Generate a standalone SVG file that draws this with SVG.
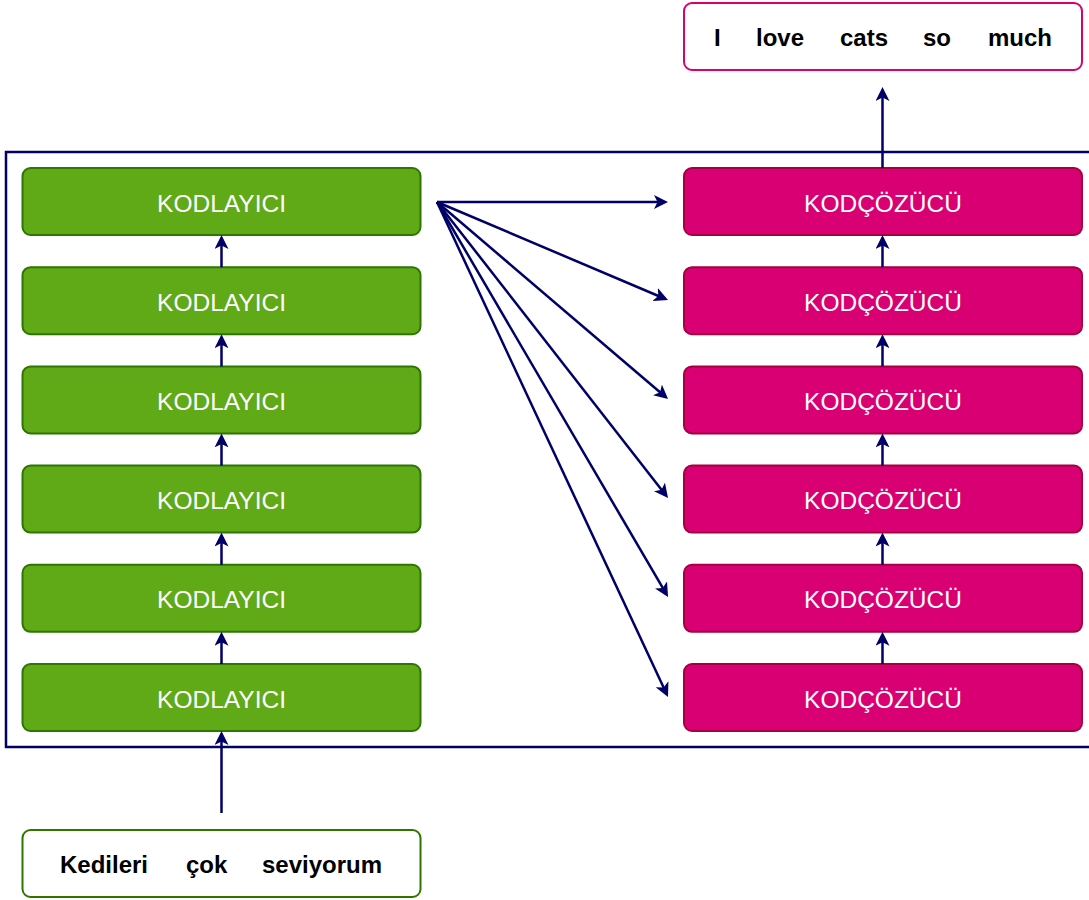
<svg xmlns="http://www.w3.org/2000/svg" width="1089" height="900" viewBox="0 0 1089 900">
  <style>
    .enc rect { fill: #60a917; stroke: #2d7600; stroke-width: 2; }
    .dec rect { fill: #d80073; stroke: #a50040; stroke-width: 2; }
    .lbl { font-family: "Liberation Sans", Arial, sans-serif; font-size: 24.5px; fill: #ffffff; text-anchor: middle; }
    .sent { font-family: "Liberation Sans", Arial, sans-serif; font-size: 24px; font-weight: bold; fill: #000000; }
    .edge { stroke: #000066; stroke-width: 2.5; fill: none; marker-end: url(#head); }
  </style>
  <defs>
    <marker id="head" markerUnits="userSpaceOnUse" viewBox="0 0 14 14" markerWidth="14" markerHeight="14" refX="5" refY="7" orient="auto">
      <path d="M0,0 L14,7 L0,14 L3.5,7 Z" fill="#000066"/>
    </marker>
  </defs>

  <rect width="1089" height="900" fill="#ffffff"/>

  <!-- model frame -->
  <rect id="model-frame" x="6" y="152" width="1100" height="595" fill="none" stroke="#000066" stroke-width="2.5"/>

  <!-- encoder stack -->
  <g id="enc1" class="enc"><rect x="22.5" y="168" width="398" height="67" rx="8"/><text class="lbl" x="221.5" y="211.5">KODLAYICI</text></g>
  <g id="enc2" class="enc"><rect x="22.5" y="267.2" width="398" height="67" rx="8"/><text class="lbl" x="221.5" y="310.7">KODLAYICI</text></g>
  <g id="enc3" class="enc"><rect x="22.5" y="366.4" width="398" height="67" rx="8"/><text class="lbl" x="221.5" y="409.9">KODLAYICI</text></g>
  <g id="enc4" class="enc"><rect x="22.5" y="465.6" width="398" height="67" rx="8"/><text class="lbl" x="221.5" y="509.1">KODLAYICI</text></g>
  <g id="enc5" class="enc"><rect x="22.5" y="564.8" width="398" height="67" rx="8"/><text class="lbl" x="221.5" y="608.3">KODLAYICI</text></g>
  <g id="enc6" class="enc"><rect x="22.5" y="664" width="398" height="67" rx="8"/><text class="lbl" x="221.5" y="707.5">KODLAYICI</text></g>

  <!-- decoder stack -->
  <g id="dec1" class="dec"><rect x="684" y="168" width="398" height="67" rx="8"/><text class="lbl" x="883" y="211.5">KODÇÖZÜCÜ</text></g>
  <g id="dec2" class="dec"><rect x="684" y="267.2" width="398" height="67" rx="8"/><text class="lbl" x="883" y="310.7">KODÇÖZÜCÜ</text></g>
  <g id="dec3" class="dec"><rect x="684" y="366.4" width="398" height="67" rx="8"/><text class="lbl" x="883" y="409.9">KODÇÖZÜCÜ</text></g>
  <g id="dec4" class="dec"><rect x="684" y="465.6" width="398" height="67" rx="8"/><text class="lbl" x="883" y="509.1">KODÇÖZÜCÜ</text></g>
  <g id="dec5" class="dec"><rect x="684" y="564.8" width="398" height="67" rx="8"/><text class="lbl" x="883" y="608.3">KODÇÖZÜCÜ</text></g>
  <g id="dec6" class="dec"><rect x="684" y="664" width="398" height="67" rx="8"/><text class="lbl" x="883" y="707.5">KODÇÖZÜCÜ</text></g>

  <!-- source sentence -->
  <g id="input">
    <rect x="22.5" y="830" width="398" height="67" rx="8" fill="#ffffff" stroke="#2d7600" stroke-width="2"/>
    <text class="sent" y="873"><tspan x="60">Kedileri</tspan><tspan x="186">çok</tspan><tspan x="262">seviyorum</tspan></text>
  </g>

  <!-- target sentence -->
  <g id="output">
    <rect x="684" y="3" width="398" height="67" rx="8" fill="#ffffff" stroke="#d80073" stroke-width="2"/>
    <text class="sent" y="46"><tspan x="714">I</tspan><tspan x="756">love</tspan><tspan x="840">cats</tspan><tspan x="923">so</tspan><tspan x="988">much</tspan></text>
  </g>

  <!-- connectors -->
  <g id="connectors">
    <line class="edge" x1="221.5" y1="813" x2="221.5" y2="740"/>
    <line class="edge" x1="221.5" y1="664" x2="221.5" y2="640.8"/>
    <line class="edge" x1="221.5" y1="564.8" x2="221.5" y2="541.6"/>
    <line class="edge" x1="221.5" y1="465.6" x2="221.5" y2="442.4"/>
    <line class="edge" x1="221.5" y1="366.4" x2="221.5" y2="343.2"/>
    <line class="edge" x1="221.5" y1="267.2" x2="221.5" y2="244"/>

    <line class="edge" x1="437" y1="202" x2="659" y2="202"/>
    <line class="edge" x1="437" y1="202" x2="659.7" y2="296.5"/>
    <line class="edge" x1="437" y1="202" x2="661.2" y2="393.2"/>
    <line class="edge" x1="437" y1="202" x2="662.5" y2="490.9"/>
    <line class="edge" x1="437" y1="202" x2="663.5" y2="589.2"/>
    <line class="edge" x1="437" y1="202" x2="664.2" y2="688.8"/>

    <line class="edge" x1="882.5" y1="664" x2="882.5" y2="640.8"/>
    <line class="edge" x1="882.5" y1="564.8" x2="882.5" y2="541.6"/>
    <line class="edge" x1="882.5" y1="465.6" x2="882.5" y2="442.4"/>
    <line class="edge" x1="882.5" y1="366.4" x2="882.5" y2="343.2"/>
    <line class="edge" x1="882.5" y1="267.2" x2="882.5" y2="244"/>
    <line class="edge" x1="882.5" y1="168" x2="882.5" y2="96"/>
  </g>
</svg>
